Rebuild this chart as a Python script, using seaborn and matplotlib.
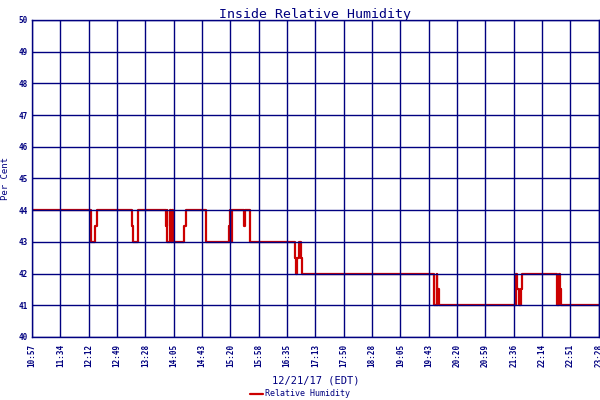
import numpy as np
import pandas as pd
import matplotlib
matplotlib.use("Agg")
import matplotlib.pyplot as plt
import seaborn as sns

# Inside relative humidity, 12/21/17 - breakpoints
# time in minutes since midnight, value in per cent (held until next point)
minutes = [657.0, 735.1, 740.4, 742.7, 789.8, 791.2, 798.1, 834.1, 835.4,
           836.2, 839.8, 841.8, 842.8, 844.2, 859.0, 861.6, 887.1, 917.9,
           919.9, 921.0, 921.9, 937.8, 939.1, 945.7, 1005.3, 1006.7, 1008.4,
           1011.0, 1013.3, 1014.6, 1189.4, 1193.0, 1193.8, 1194.7, 1195.7,
           1297.7, 1299.8, 1302.5, 1304.7, 1306.0, 1352.0, 1352.8, 1355.0,
           1356.3, 1357.7, 1408.0]
humidity = [44, 43, 43.5, 44, 43.5, 43, 44, 43.5, 44,
            43, 44, 43, 44, 43, 43.5, 44, 43, 43.5,
            44, 43, 44, 43.5, 44, 43, 42.5, 42, 42.5,
            43, 42.5, 42, 41, 42, 41, 41.5, 41,
            42, 41.5, 41, 41.5, 42, 41.5, 41, 42,
            41.5, 41, 41]

x_labels = ["10:57", "11:34", "12:12", "12:49", "13:28", "14:05", "14:43",
            "15:20", "15:58", "16:35", "17:13", "17:50", "18:28", "19:05",
            "19:43", "20:20", "20:59", "21:36", "22:14", "22:51", "23:28"]
y_ticks = list(range(40, 51))

navy = "#000080"
red = "#cc0000"

sns.set_style("white")
plt.rcParams['font.family'] = ['DejaVu Sans Mono', 'DejaVu Sans']

df = pd.DataFrame({"minute": minutes, "rh": humidity})

fig = plt.figure(figsize=(6, 4), dpi=100)
ax = fig.add_axes([0.0533, 0.1575, 0.9447, 0.7925])

sns.lineplot(data=df, x="minute", y="rh", ax=ax, color=red, linewidth=1.6,
             drawstyle="steps-post", estimator=None, label="Relative Humidity",
             legend=False)

x_start, x_end = minutes[0], minutes[-1]
ax.set_xlim(x_start, x_end)
ax.set_ylim(40, 50)
ax.set_xticks(np.linspace(x_start, x_end, len(x_labels)))
ax.set_xticklabels(x_labels, rotation=90, fontsize=5.5, fontweight="bold", color=navy)
ax.set_yticks(y_ticks)
ax.set_yticklabels([str(v) for v in y_ticks], fontsize=5.5, fontweight="bold", color=navy)
ax.tick_params(axis="both", length=0)
ax.tick_params(axis="x", pad=5)
ax.tick_params(axis="y", pad=3)

ax.set_axisbelow(False)
ax.grid(True, color=navy, linewidth=1.0)
for s in ax.spines.values():
    s.set_color(navy)
    s.set_linewidth(1.0)

ax.set_title("Inside Relative Humidity", fontsize=9.5, color=navy, pad=1.5)
ax.set_xlabel("12/21/17 (EDT)", fontsize=7.5, color=navy, labelpad=6)
ax.set_ylabel("Per Cent", fontsize=6.5, color=navy, labelpad=6)

fig.legend(loc="lower center", bbox_to_anchor=(0.5, -0.015), frameon=False,
           fontsize=6, labelcolor=navy, handlelength=1.6, handletextpad=0.3)

fig.savefig("out.png", dpi=100)
